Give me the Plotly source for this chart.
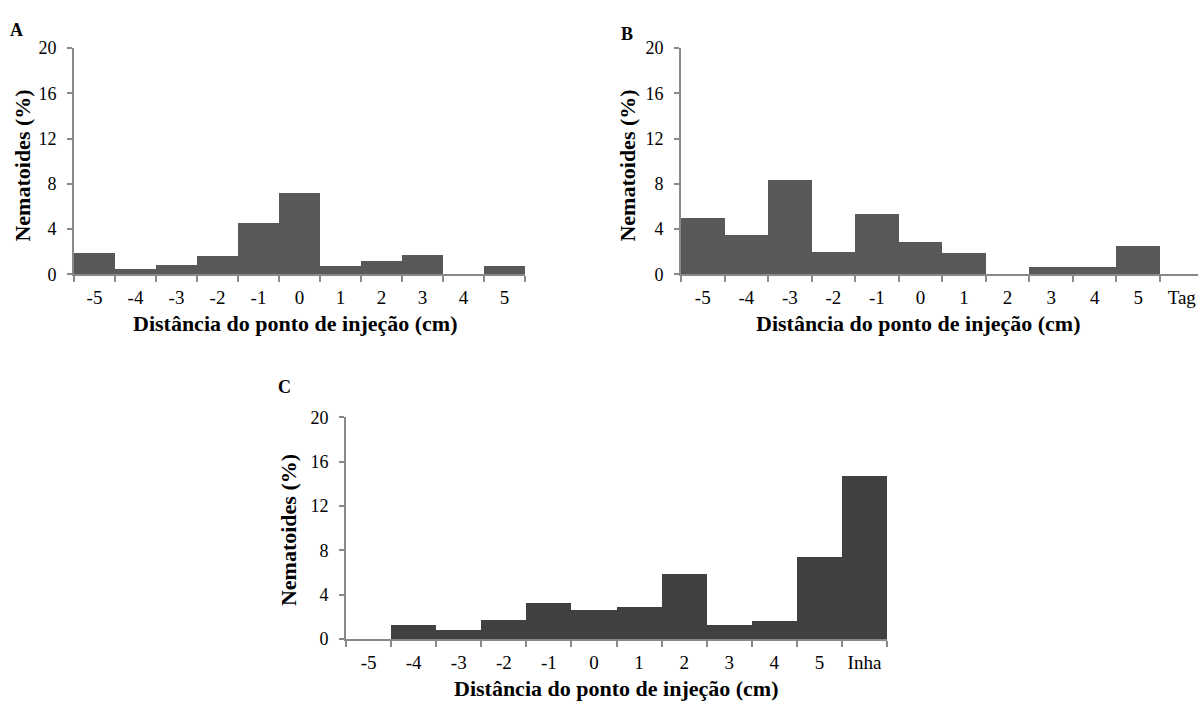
import plotly.graph_objects as go

# ---- data ----
cats_a = ["-5", "-4", "-3", "-2", "-1", "0", "1", "2", "3", "4", "5"]
vals_a = [1.9, 0.52, 0.86, 1.62, 4.5, 7.22, 0.72, 1.15, 1.67, 0.0, 0.72]

cats_b = ["-5", "-4", "-3", "-2", "-1", "0", "1", "2", "3", "4", "5", "Tag"]
vals_b = [4.96, 3.44, 8.34, 1.98, 5.33, 2.87, 1.92, 0.0, 0.66, 0.66, 2.52, 0.0]

cats_c = ["-5", "-4", "-3", "-2", "-1", "0", "1", "2", "3", "4", "5", "Inha"]
vals_c = [0.0, 1.28, 0.84, 1.69, 3.2, 2.59, 2.88, 5.85, 1.28, 1.6, 7.39, 14.67]

y_ticks = [0, 4, 8, 12, 16, 20]
x_title = "Distância do ponto de injeção (cm)"
y_title = "Nematoides (%)"
panel_labels = ["A", "B", "C"]

W, H = 1198, 716
FONT = "Liberation Serif, Times New Roman, serif"
AXIS_COL = "#898989"

def px(x):
    return x / W

def py(y):
    return 1 - y / H

fig = go.Figure()
fig.add_trace(go.Bar(x=cats_a, y=vals_a, marker=dict(color="#595959", line=dict(width=0)),
                     xaxis="x", yaxis="y", showlegend=False))
fig.add_trace(go.Bar(x=cats_b, y=vals_b, marker=dict(color="#595959", line=dict(width=0)),
                     xaxis="x2", yaxis="y2", showlegend=False))
fig.add_trace(go.Bar(x=cats_c, y=vals_c, marker=dict(color="#404040", line=dict(width=0)),
                     xaxis="x3", yaxis="y3", showlegend=False))

def xaxis_cfg(dom, rng, anchor):
    return dict(domain=dom, range=rng, anchor=anchor, type="category",
                showline=True, linecolor=AXIS_COL, linewidth=2,
                ticks="outside", tickson="boundaries", ticklen=6, tickwidth=2,
                tickcolor=AXIS_COL, showgrid=False, zeroline=False,
                tickfont=dict(family=FONT, size=19, color="#000000"),
                ticklabelstandoff=5, fixedrange=True)

def yaxis_cfg(dom, anchor):
    return dict(domain=dom, range=[0, 20], anchor=anchor,
                showline=True, linecolor=AXIS_COL, linewidth=2,
                ticks="outside", ticklen=5, tickwidth=2, tickcolor=AXIS_COL,
                tickvals=y_ticks, showgrid=False, zeroline=False,
                tickfont=dict(family=FONT, size=18, color="#000000"),
                ticklabelstandoff=7, fixedrange=True)

# domains (pixels -> paper)
a_x = [px(74), px(525)]
b_x = [px(681), 1.0]
c_x = [px(346), px(887)]
ab_y = [py(272), py(39)]
c_y = [py(647), py(419)]

b_cat_w = (1160 - 681) / 11.0
b_range = [-0.5, -0.5 + (1198 - 681) / b_cat_w]

fig.update_layout(
    width=W, height=H,
    margin=dict(l=0, r=0, t=0, b=0),
    paper_bgcolor="white", plot_bgcolor="white",
    bargap=0,
    xaxis=xaxis_cfg(a_x, [-0.5, 10.5], "y"),
    yaxis=yaxis_cfg(ab_y, "x"),
    xaxis2=xaxis_cfg(b_x, b_range, "y2"),
    yaxis2=yaxis_cfg(ab_y, "x2"),
    xaxis3=xaxis_cfg(c_x, [-0.5, 11.5], "y3"),
    yaxis3=yaxis_cfg(c_y, "x3"),
)

ann = []
title_font = dict(family=FONT, size=22, color="#000000")
# x titles
for cx, cy in [(295, 323), (918, 323), (616, 698)]:
    ann.append(dict(text="<b>" + x_title + "</b>", x=px(cx), y=py(cy), xref="paper", yref="paper",
                    showarrow=False, font=title_font, xanchor="center", yanchor="middle"))
# y titles
for cx, cy in [(23, 160), (628, 160), (288, 535)]:
    ann.append(dict(text="<b>" + y_title + "</b>", x=px(cx), y=py(cy), xref="paper", yref="paper",
                    showarrow=False, font=title_font, textangle=-90, xanchor="center", yanchor="middle"))
# panel letters
for lab, (cx, cy) in zip(panel_labels, [(16, 21), (627, 25), (284, 388)]):
    ann.append(dict(text="<b>" + lab + "</b>", x=px(cx), y=py(cy), xref="paper", yref="paper",
                    showarrow=False, font=dict(family=FONT, size=18, color="#000000"),
                    xanchor="center", yanchor="middle"))
fig.update_layout(annotations=ann)

fig.write_html("out.html", config={"displayModeBar": False, "staticPlot": True},
               post_script="document.body.style.margin='0';document.body.style.overflow='hidden';")
